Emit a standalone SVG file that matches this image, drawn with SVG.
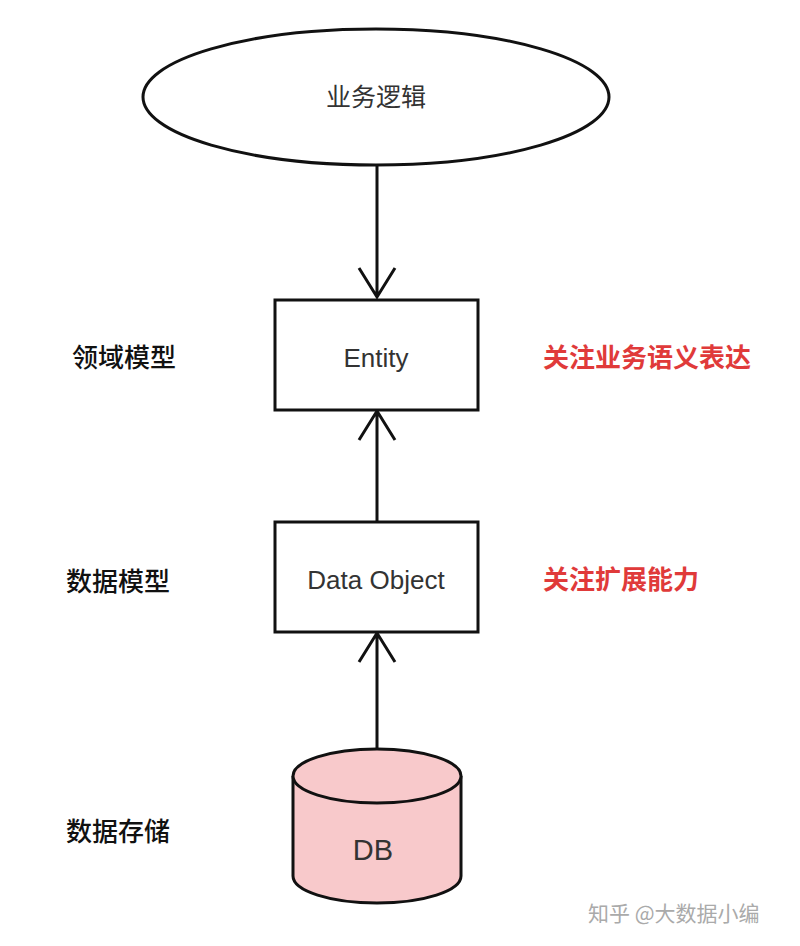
<svg xmlns="http://www.w3.org/2000/svg" width="800" height="946" viewBox="0 0 800 946">
<style>
.s{fill:#fff;stroke:#111;stroke-width:3}
.t{font-family:"Liberation Sans","Noto Sans CJK SC",sans-serif;fill:#333;text-anchor:middle}
.l{font-family:"Noto Sans CJK SC",sans-serif;font-size:26px;font-weight:500;fill:#111}
.r{font-family:"Noto Sans CJK SC",sans-serif;font-size:26px;font-weight:bold;fill:#e03a3a}
.c{stroke:#111;stroke-width:3;fill:none}
</style>
<rect width="800" height="946" fill="#fff"/>
<g id="connectors">
<path class="c" d="M377 165V297M359 268L377 297L395 268"/>
<path class="c" d="M377 522V411M359 440L377 411L395 440"/>
<path class="c" d="M377 749V633M359 662L377 633L395 662"/>
</g>
<g id="logic"><ellipse class="s" cx="376" cy="97" rx="233" ry="68"/><text class="t" x="376" y="106" font-size="25" font-family="Noto Sans CJK SC,sans-serif">业务逻辑</text></g>
<g id="entity"><rect class="s" x="275" y="300" width="203" height="110"/><text class="t" x="376" y="367" font-size="26">Entity</text></g>
<g id="dataobject"><rect class="s" x="275" y="522" width="203" height="110"/><text class="t" x="376" y="589" font-size="26">Data Object</text></g>
<g id="db">
<path d="M293 776V876A84 27 0 0 0 461 876V776" fill="#f8c9cb" stroke="#111" stroke-width="3"/>
<ellipse cx="377" cy="776" rx="84" ry="27" fill="#f8c9cb" stroke="#111" stroke-width="3"/>
<text class="t" x="373" y="860" font-size="29" fill="#111">DB</text>
</g>
<g id="labels">
<text class="l" x="72" y="367">领域模型</text>
<text class="l" x="66" y="591">数据模型</text>
<text class="l" x="66" y="841">数据存储</text>
<text class="r" x="543" y="367">关注业务语义表达</text>
<text class="r" x="543" y="589">关注扩展能力</text>
<text x="588" y="921" font-family="Noto Sans CJK SC,sans-serif" font-size="21" fill="#aaa">知乎 @大数据小编</text>
</g>
</svg>
